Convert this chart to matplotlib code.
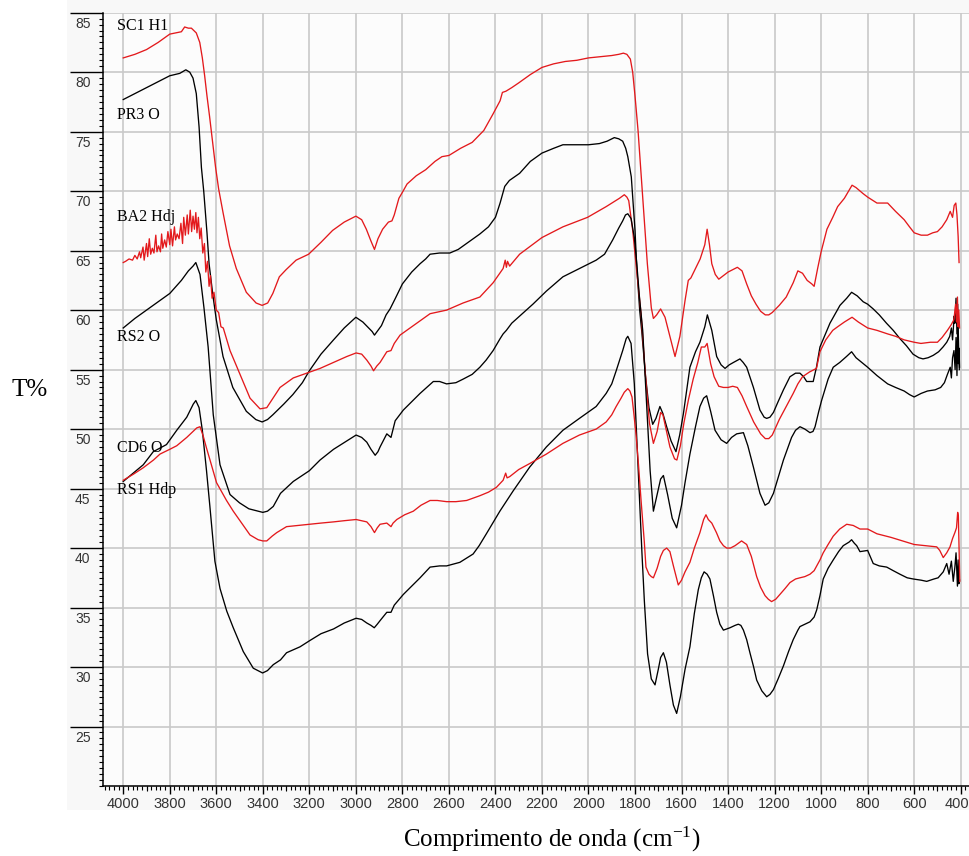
import matplotlib
matplotlib.use("Agg")
import matplotlib.pyplot as plt
from matplotlib.patches import Rectangle
from matplotlib.transforms import ScaledTranslation
from matplotlib.ticker import MultipleLocator

# ---- FTIR spectra: wavenumber (cm-1) and transmittance (%) ----
wn_sc1 = [4000, 3950, 3900, 3850, 3800, 3750, 3736, 3720, 3707, 3686, 3671, 3660, 3650, 3640,
          3629, 3615, 3603, 3590, 3571, 3543, 3514, 3471, 3429, 3403, 3379, 3357, 3329, 3300,
          3257, 3203, 3150, 3100, 3050, 3000, 2975, 2955, 2935, 2920, 2905, 2885, 2860, 2845,
          2835, 2815, 2800, 2780, 2740, 2700, 2660, 2630, 2600, 2550, 2500, 2450, 2410, 2380,
          2370, 2355, 2330, 2300, 2250, 2200, 2150, 2100, 2050, 2000, 1950, 1900, 1870, 1850,
          1835, 1820, 1810, 1800, 1787, 1769, 1747, 1730, 1721, 1707, 1690, 1671, 1650, 1628,
          1607, 1585, 1571, 1560, 1540, 1520, 1500, 1490, 1480, 1470, 1455, 1440, 1420, 1400,
          1380, 1360, 1340, 1320, 1300, 1280, 1260, 1240, 1225, 1210, 1180, 1150, 1120, 1100,
          1080, 1060, 1040, 1030, 1015, 1000, 975, 950, 929, 900, 867, 850, 820, 800, 760, 714,
          680, 643, 620, 600, 570, 543, 520, 500, 480, 460, 445, 435, 428, 421, 416, 411, 407]
t_sc1 = [81.2, 81.5, 81.9, 82.5, 83.2, 83.4, 83.8, 83.7, 83.7, 83.3, 82.5, 81.2, 79.7, 78.0,
         76.3, 74.0, 72.0, 70.2, 68.2, 65.4, 63.5, 61.5, 60.6, 60.4, 60.6, 61.4, 62.8, 63.4,
         64.2, 64.7, 65.7, 66.7, 67.4, 67.9, 67.6, 66.8, 65.8, 65.1, 66.0, 66.8, 67.4, 67.5,
         68.0, 69.4, 69.9, 70.6, 71.3, 71.8, 72.5, 72.9, 73.0, 73.6, 74.1, 75.1, 76.5, 77.6,
         78.3, 78.4, 78.7, 79.1, 79.8, 80.4, 80.7, 80.9, 81.0, 81.2, 81.3, 81.4, 81.5, 81.6,
         81.5, 81.1, 80.0, 78.0, 75.1, 70.1, 63.9, 60.2, 59.3, 59.6, 60.1, 59.4, 57.8, 56.1,
         57.8, 60.8, 62.5, 62.7, 63.5, 64.3, 65.5, 66.8, 65.5, 63.9, 63.0, 62.6, 62.9, 63.2,
         63.4, 63.6, 63.3, 62.2, 61.2, 60.5, 59.9, 59.6, 59.6, 59.8, 60.4, 61.1, 62.3, 63.3,
         63.1, 62.5, 62.2, 62.0, 63.5, 64.9, 66.8, 67.8, 68.7, 69.4, 70.5, 70.3, 69.8, 69.5,
         69.0, 69.0, 68.3, 67.6, 67.0, 66.5, 66.3, 66.3, 66.5, 66.6, 67.0, 67.6, 68.3, 67.8,
         68.8, 69.0, 68.0, 66.2, 64.0]

wn_pr3 = [4000, 3950, 3900, 3850, 3800, 3757, 3731, 3714, 3700, 3686, 3674, 3664, 3654, 3640,
          3631, 3615, 3600, 3571, 3529, 3471, 3430, 3403, 3380, 3357, 3310, 3271, 3230, 3200,
          3150, 3096, 3050, 3000, 2970, 2945, 2930, 2920, 2905, 2890, 2870, 2853, 2830, 2800,
          2760, 2724, 2700, 2681, 2640, 2596, 2560, 2524, 2467, 2430, 2400, 2380, 2360, 2340,
          2296, 2250, 2200, 2150, 2110, 2050, 2000, 1953, 1920, 1889, 1870, 1853, 1840, 1831,
          1816, 1800, 1793, 1780, 1771, 1755, 1740, 1724, 1710, 1693, 1680, 1664, 1645, 1624,
          1608, 1592, 1564, 1540, 1521, 1500, 1489, 1470, 1449, 1430, 1413, 1395, 1377, 1349,
          1335, 1320, 1291, 1263, 1245, 1234, 1220, 1205, 1185, 1162, 1134, 1110, 1091, 1075,
          1062, 1034, 1020, 1005, 962, 919, 890, 869, 845, 819, 800, 776, 750, 719, 690, 661,
          633, 605, 580, 562, 540, 518, 495, 476, 460, 447, 440, 435, 428, 425, 420, 416, 413,
          409, 406]
t_pr3 = [77.7, 78.2, 78.7, 79.2, 79.7, 79.9, 80.2, 80.0, 79.5, 78.2, 75.4, 72.0, 70.0, 66.5,
         63.9, 61.3, 59.2, 56.1, 53.5, 51.5, 50.8, 50.6, 50.8, 51.2, 52.1, 52.9, 53.9, 54.9,
         56.3, 57.5, 58.5, 59.4, 59.0, 58.5, 58.2, 57.9, 58.3, 58.7, 59.6, 60.1, 61.0, 62.2,
         63.2, 63.9, 64.3, 64.7, 64.8, 64.8, 65.1, 65.6, 66.4, 67.0, 67.8, 69.0, 70.4, 70.9,
         71.5, 72.5, 73.2, 73.6, 73.9, 73.9, 73.9, 74.0, 74.2, 74.5, 74.4, 74.2, 73.6, 72.9,
         71.2, 66.7, 63.8, 60.0, 58.2, 54.5, 51.8, 50.4, 50.9, 51.9, 51.3, 50.2, 49.0, 48.1,
         49.5, 51.3, 55.2, 56.5, 57.3, 58.6, 59.6, 58.3, 56.1, 55.4, 55.1, 55.4, 55.6, 55.9,
         55.6, 55.2, 53.5, 51.6, 51.0, 50.9, 51.0, 51.4, 52.3, 53.3, 54.4, 54.7, 54.7, 54.4,
         54.0, 54.0, 55.2, 56.9, 58.9, 60.4, 61.0, 61.5, 61.2, 60.7, 60.5, 60.1, 59.6, 58.9,
         58.3, 57.6, 57.0, 56.3, 56.0, 55.9, 56.0, 56.2, 56.5, 56.9, 57.3, 57.8, 58.5, 57.5,
         59.5, 58.9, 61.0, 58.0, 60.5, 57.0, 55.0]

wn_ba2 = [4000, 3990, 3975, 3960, 3950, 3940, 3930, 3925, 3915, 3910, 3900, 3895, 3888, 3882,
          3875, 3868, 3860, 3855, 3848, 3840, 3835, 3830, 3822, 3815, 3808, 3800, 3795, 3788,
          3780, 3775, 3768, 3760, 3752, 3745, 3740, 3733, 3725, 3720, 3712, 3706, 3700, 3694,
          3688, 3683, 3677, 3671, 3665, 3658, 3651, 3645, 3638, 3631, 3625, 3618, 3610, 3600,
          3590, 3580, 3570, 3541, 3498, 3455, 3412, 3383, 3326, 3269, 3212, 3154, 3096, 3039,
          2999, 2975, 2953, 2935, 2924, 2910, 2896, 2880, 2867, 2849, 2835, 2810, 2753, 2681,
          2610, 2539, 2467, 2410, 2367, 2358, 2353, 2348, 2339, 2296, 2200, 2110, 2004, 1924,
          1867, 1846, 1835, 1827, 1810, 1796, 1774, 1755, 1738, 1721, 1705, 1690, 1680, 1670,
          1650, 1630, 1620, 1605, 1590, 1570, 1550, 1530, 1515, 1500, 1490, 1475, 1460, 1440,
          1420, 1400, 1380, 1360, 1340, 1320, 1290, 1260, 1240, 1225, 1210, 1180, 1150, 1120,
          1100, 1080, 1050, 1020, 1005, 980, 950, 929, 900, 867, 840, 800, 760, 714, 680, 643,
          600, 571, 530, 500, 480, 457, 440, 429, 422, 418, 414, 411, 408, 405]
t_ba2 = [64.0, 64.1, 64.3, 64.2, 64.6, 64.3, 64.9, 64.4, 65.3, 64.2, 65.6, 64.5, 66.0, 64.7,
         65.2, 64.8, 66.3, 64.9, 65.4, 64.9, 66.4, 65.2, 65.9, 65.3, 66.6, 65.5, 66.8, 65.4,
         67.0, 65.9, 66.4, 66.0, 67.3, 65.6, 67.8, 66.3, 68.0, 66.4, 68.4, 66.6, 67.9, 66.8,
         68.2, 66.5, 67.8, 66.0, 66.9, 64.8, 65.6, 63.2, 64.1, 62.0, 62.9, 61.0, 61.5, 60.0,
         59.8, 58.6, 58.5, 56.6, 54.6, 52.6, 51.7, 51.8, 53.5, 54.3, 54.7, 55.1, 55.6, 56.1,
         56.4, 56.3, 55.8, 55.3, 54.9, 55.3, 55.6, 56.1, 56.5, 56.6, 57.2, 57.9, 58.7, 59.7,
         60.0, 60.6, 61.1, 62.3, 63.5, 64.2, 63.6, 64.1, 63.7, 64.7, 66.1, 67.0, 67.8, 68.7,
         69.4, 69.7, 69.5, 69.2, 66.7, 63.9, 59.7, 54.5, 50.5, 48.8, 49.8, 51.4, 51.2, 50.3,
         48.5, 47.5, 47.4, 48.6, 50.5, 52.5, 54.2, 55.6, 56.9, 56.9, 57.2, 55.5, 54.4, 53.6,
         53.5, 53.5, 53.6, 53.5, 52.8, 51.9, 50.6, 49.6, 49.2, 49.2, 49.5, 50.8, 51.9, 53.0,
         53.8, 54.4, 54.8, 55.1, 56.5, 57.5, 58.3, 58.6, 59.0, 59.4, 59.0, 58.5, 58.3, 58.0,
         57.8, 57.5, 57.3, 57.2, 57.3, 57.3, 57.7, 58.3, 58.8, 59.2, 60.5, 59.0, 61.1, 58.6,
         60.0, 58.5]

wn_rs2 = [4000, 3950, 3900, 3850, 3800, 3750, 3720, 3700, 3688, 3670, 3653, 3635, 3613, 3584,
          3541, 3500, 3460, 3420, 3400, 3380, 3355, 3324, 3269, 3200, 3154, 3096, 3039, 2999,
          2975, 2953, 2935, 2917, 2905, 2896, 2880, 2867, 2849, 2840, 2831, 2796, 2760, 2724,
          2690, 2667, 2640, 2610, 2570, 2539, 2500, 2467, 2440, 2410, 2380, 2367, 2353, 2330,
          2296, 2239, 2181, 2110, 2039, 1967, 1931, 1896, 1870, 1853, 1841, 1831, 1817, 1803,
          1792, 1781, 1767, 1750, 1735, 1721, 1705, 1690, 1678, 1660, 1640, 1621, 1600, 1585,
          1564, 1540, 1521, 1505, 1492, 1475, 1456, 1430, 1406, 1385, 1363, 1334, 1315, 1291,
          1263, 1241, 1225, 1205, 1185, 1162, 1140, 1127, 1110, 1091, 1070, 1048, 1035, 1026,
          1010, 998, 970, 948, 920, 891, 869, 850, 800, 760, 714, 680, 643, 620, 600, 570, 543,
          510, 486, 470, 457, 445, 440, 435, 429, 424, 420, 416, 413, 410, 407, 405]
t_rs2 = [58.5, 59.3, 60.0, 60.7, 61.4, 62.5, 63.3, 63.7, 64.0, 63.0, 60.2, 56.9, 51.2, 47.0,
         44.5, 43.8, 43.3, 43.1, 43.0, 43.1, 43.5, 44.6, 45.6, 46.5, 47.4, 48.3, 49.0, 49.5,
         49.3, 48.9, 48.3, 47.8, 48.1, 48.5, 49.1, 49.6, 49.3, 50.0, 50.7, 51.6, 52.3, 53.0,
         53.6, 54.0, 54.0, 53.8, 53.9, 54.2, 54.6, 55.2, 55.8, 56.6, 57.6, 58.0, 58.3, 58.9,
         59.5, 60.5, 61.6, 62.8, 63.5, 64.2, 64.7, 65.9, 66.9, 67.5, 68.0, 68.1, 67.7, 66.1,
         63.8, 61.1, 58.3, 52.0, 46.5, 43.1, 44.5, 45.8, 46.1, 44.5, 42.5, 41.7, 43.6, 45.5,
         47.9, 50.2, 51.9, 52.6, 52.8, 51.5, 49.9, 49.1, 48.8, 49.3, 49.6, 49.7, 48.6, 46.8,
         44.6, 43.6, 43.8, 44.6, 45.9, 47.4, 48.6, 49.3, 49.9, 50.2, 50.0, 49.7, 49.8, 50.2,
         51.5, 52.4, 54.2, 55.2, 55.6, 56.1, 56.5, 56.0, 55.2, 54.5, 53.8, 53.5, 53.2, 52.9,
         52.7, 53.0, 53.2, 53.3, 53.5, 53.9, 54.6, 55.2, 54.3, 56.0, 56.6, 55.0, 57.7, 54.5,
         58.5, 55.5, 56.8, 55.2]

wn_cd6 = [4000, 3957, 3914, 3871, 3814, 3770, 3727, 3699, 3688, 3674, 3660, 3642, 3628, 3606,
          3584, 3555, 3527, 3484, 3441, 3401, 3380, 3355, 3324, 3298, 3240, 3200, 3150, 3096,
          3050, 2999, 2975, 2953, 2935, 2921, 2908, 2896, 2867, 2849, 2835, 2796, 2760, 2724,
          2681, 2640, 2610, 2553, 2496, 2470, 2439, 2381, 2324, 2253, 2181, 2110, 2039, 1967,
          1924, 1900, 1881, 1853, 1838, 1831, 1817, 1803, 1792, 1781, 1770, 1760, 1746, 1730,
          1714, 1700, 1690, 1678, 1665, 1650, 1635, 1621, 1605, 1585, 1564, 1545, 1528, 1515,
          1503, 1490, 1478, 1463, 1449, 1435, 1420, 1406, 1392, 1370, 1356, 1345, 1334, 1320,
          1306, 1290, 1277, 1255, 1234, 1220, 1205, 1185, 1162, 1140, 1120, 1100, 1091, 1070,
          1048, 1030, 1019, 1005, 991, 970, 948, 925, 905, 880, 869, 857, 847, 833, 800, 776,
          750, 718, 690, 661, 630, 604, 570, 546, 515, 497, 475, 460, 450, 440, 432, 425, 420,
          414, 411, 408, 405]
t_cd6 = [45.6, 46.3, 47.0, 48.1, 48.7, 49.9, 51.0, 52.1, 52.4, 51.8, 49.9, 46.5, 43.6, 38.9,
         36.6, 34.7, 33.3, 31.3, 29.9, 29.5, 29.7, 30.2, 30.6, 31.2, 31.7, 32.2, 32.8, 33.2,
         33.7, 34.1, 34.0, 33.7, 33.5, 33.3, 33.6, 33.9, 34.6, 34.6, 35.2, 36.1, 36.8, 37.5,
         38.4, 38.5, 38.5, 38.8, 39.5, 40.2, 41.2, 43.1, 44.8, 46.8, 48.5, 49.9, 50.9, 51.9,
         53.0, 53.8, 54.9, 56.6, 57.6, 57.8, 57.2, 53.8, 49.0, 44.0, 39.5, 35.6, 31.1, 29.0,
         28.5, 29.8, 30.8, 31.2, 30.4, 28.5, 26.8, 26.1, 27.5, 29.8, 31.7, 34.5, 36.5, 37.5,
         38.0, 37.8, 37.4, 36.0, 34.6, 33.6, 33.1, 33.2, 33.3, 33.5, 33.6, 33.5, 33.1, 32.3,
         31.2, 30.0, 28.9, 28.0, 27.5, 27.7, 28.1, 29.0, 30.1, 31.3, 32.3, 33.1, 33.4, 33.6,
         33.8, 34.2, 34.8, 36.0, 37.4, 38.3, 39.0, 39.7, 40.2, 40.5, 40.7, 40.4, 40.2, 39.7,
         39.8, 38.7, 38.5, 38.4, 38.1, 37.8, 37.5, 37.4, 37.3, 37.2, 37.4, 37.5, 38.0, 38.7,
         37.8, 38.9, 37.2, 38.4, 39.6, 36.8, 39.0, 37.0, 37.3]

wn_rs1 = [4000, 3957, 3914, 3870, 3842, 3800, 3770, 3727, 3700, 3684, 3670, 3656, 3642, 3627,
          3599, 3556, 3527, 3498, 3455, 3420, 3400, 3383, 3360, 3340, 3298, 3250, 3200, 3150,
          3096, 3050, 2999, 2975, 2953, 2935, 2920, 2908, 2896, 2867, 2849, 2840, 2824, 2790,
          2753, 2720, 2681, 2650, 2610, 2570, 2524, 2467, 2430, 2396, 2367, 2356, 2350, 2339,
          2300, 2253, 2181, 2110, 2039, 1967, 1924, 1900, 1881, 1860, 1846, 1831, 1822, 1813,
          1805, 1796, 1785, 1774, 1760, 1753, 1740, 1730, 1721, 1705, 1690, 1678, 1664, 1650,
          1635, 1614, 1600, 1585, 1564, 1545, 1521, 1505, 1495, 1485, 1470, 1450, 1435, 1420,
          1406, 1390, 1370, 1342, 1320, 1300, 1277, 1260, 1241, 1227, 1213, 1195, 1177, 1155,
          1134, 1110, 1091, 1070, 1048, 1030, 1019, 1005, 991, 970, 948, 920, 890, 862, 833,
          800, 760, 720, 700, 650, 600, 550, 503, 490, 475, 460, 446, 435, 425, 418, 413, 410,
          407, 404]
t_rs1 = [45.7, 46.2, 46.75, 47.4, 47.9, 48.3, 48.6, 49.3, 49.8, 50.1, 50.2, 49.4, 48.4, 47.4,
         45.5, 44.0, 43.1, 42.3, 41.1, 40.7, 40.6, 40.6, 41.0, 41.3, 41.8, 41.9, 42.0, 42.1,
         42.2, 42.3, 42.4, 42.3, 42.2, 41.8, 41.3, 41.7, 42.0, 42.1, 41.8, 42.1, 42.4, 42.8,
         43.1, 43.6, 44.0, 44.0, 43.9, 43.9, 44.0, 44.4, 44.7, 45.1, 45.7, 46.3, 45.9, 46.0,
         46.6, 47.1, 47.9, 48.8, 49.5, 50.0, 50.6, 51.2, 51.9, 52.6, 53.1, 53.4, 53.2, 52.7,
         51.3, 49.6, 47.0, 44.0, 40.5, 38.4, 37.8, 37.6, 37.5, 38.3, 39.3, 39.8, 40.0, 39.7,
         38.5, 36.9, 37.3, 38.0, 38.8, 40.0, 41.3, 42.4, 42.8, 42.4, 42.1, 41.3, 40.6, 40.2,
         40.0, 40.0, 40.2, 40.6, 40.3, 39.3, 37.6, 36.7, 36.0, 35.7, 35.5, 35.7, 36.1, 36.6,
         37.1, 37.4, 37.5, 37.6, 37.8, 38.1, 38.5, 39.0, 39.6, 40.3, 41.0, 41.6, 42.0, 41.9,
         41.6, 41.6, 41.2, 41.0, 40.9, 40.6, 40.3, 40.2, 40.1, 39.8, 39.2, 39.6, 40.1, 40.8,
         41.3, 41.7, 43.0, 42.7, 40.0, 37.2]

series = [
    ("SC1 H1", wn_sc1, t_sc1, "#e3191c"),
    ("PR3 O", wn_pr3, t_pr3, "black"),
    ("BA2 Hdj", wn_ba2, t_ba2, "#e3191c"),
    ("RS2 O", wn_rs2, t_rs2, "black"),
    ("CD6 O", wn_cd6, t_cd6, "black"),
    ("RS1 Hdp", wn_rs1, t_rs1, "#e3191c"),
]

# label anchors (wavenumber, %T) for the sample names
label_pos = {
    "SC1 H1": (4026, 83.9),
    "PR3 O": (4026, 76.4),
    "BA2 Hdj": (4026, 67.8),
    "RS2 O": (4026, 57.7),
    "CD6 O": (4026, 48.4),
    "RS1 Hdp": (4026, 44.85),
}

x_ticks = list(range(4000, 399, -200))
y_ticks = list(range(25, 86, 5))

plt.rcParams["mathtext.fontset"] = "stix"

W, H = 970, 856
fig = plt.figure(figsize=(W / 100, H / 100), dpi=100, facecolor="white")

# light panel behind the plot and its tick labels
fig.patches.append(Rectangle((67 / W, 1 - 810 / H), 1 - 67 / W, 810 / H,
                             transform=fig.transFigure, facecolor="#f8f8f8",
                             edgecolor="none", zorder=-10))

ax = fig.add_axes([103 / W, 1 - 786 / H, (W - 103) / W, (786 - 12.7) / H])
ax.set_zorder(1)
ax.set_facecolor("#fcfcfc")

for name, wn, tr, col in series:
    ax.plot(wn, tr, color=col, lw=0.95, solid_joinstyle="round", zorder=3)

ax.set_xlim(4087, 360)
ax.set_ylim(20, 85)

ax.set_xticks(x_ticks)
ax.set_xticklabels([str(v) for v in x_ticks])
ax.set_yticks(y_ticks)
ax.set_yticklabels([str(v) for v in y_ticks])
ax.xaxis.set_minor_locator(MultipleLocator(20))
ax.yaxis.set_minor_locator(MultipleLocator(0.5))

ax.grid(True, which="major", color="#c9c9c9", lw=1.2, zorder=1)
ax.set_axisbelow(True)

for s in ("top", "right"):
    ax.spines[s].set_visible(False)
for s in ("left", "bottom"):
    ax.spines[s].set_color("black")
    ax.spines[s].set_linewidth(1.1)

ax.tick_params(axis="x", which="major", direction="out", length=5.5, width=1.0,
               pad=2.5, labelsize=10.5, labelcolor="#333333")
ax.tick_params(axis="x", which="minor", direction="out", length=2.6, width=0.8)
ax.tick_params(axis="y", which="major", direction="out", length=23.5, width=1.0,
               pad=-14.5, labelsize=10, labelcolor="#333333")
ax.tick_params(axis="y", which="minor", direction="out", length=3.2, width=0.8)

# longer marks at every 100 cm-1, between the major and minor ticks
sec = ax.secondary_xaxis("bottom")
sec.set_xticks(list(range(3900, 399, -200)))
sec.tick_params(axis="x", direction="out", length=3.8, width=0.8, labelbottom=False)
sec.spines["bottom"].set_visible(False)

for lab in ax.get_xticklabels() + ax.get_yticklabels():
    lab.set_fontfamily("Liberation Sans")
# y labels sit just under their tick line
shift = ScaledTranslation(0, -7.0 / 72, fig.dpi_scale_trans)
for lab in ax.get_yticklabels():
    lab.set_transform(lab.get_transform() + shift)
# keep the last x label inside the figure edge
last = ax.get_xticklabels()[-1]
last.set_transform(last.get_transform() + ScaledTranslation(-4 / 100, 0, fig.dpi_scale_trans))

for name, (xw, yv) in label_pos.items():
    ax.text(xw, yv, name, ha="left", va="center", fontsize=11.5,
            family="Liberation Serif", color="black", zorder=4)

fig.text(12 / W, 1 - 390 / H, "T%", ha="left", va="center", fontsize=18,
         family="Liberation Serif")
fig.text(552 / W, 1 - 839 / H, "Comprimento de onda (cm$^{\\mathregular{-1}}$)",
         ha="center", va="center", fontsize=18, family="Liberation Serif")

fig.savefig("out.png", dpi=100, facecolor="white")
